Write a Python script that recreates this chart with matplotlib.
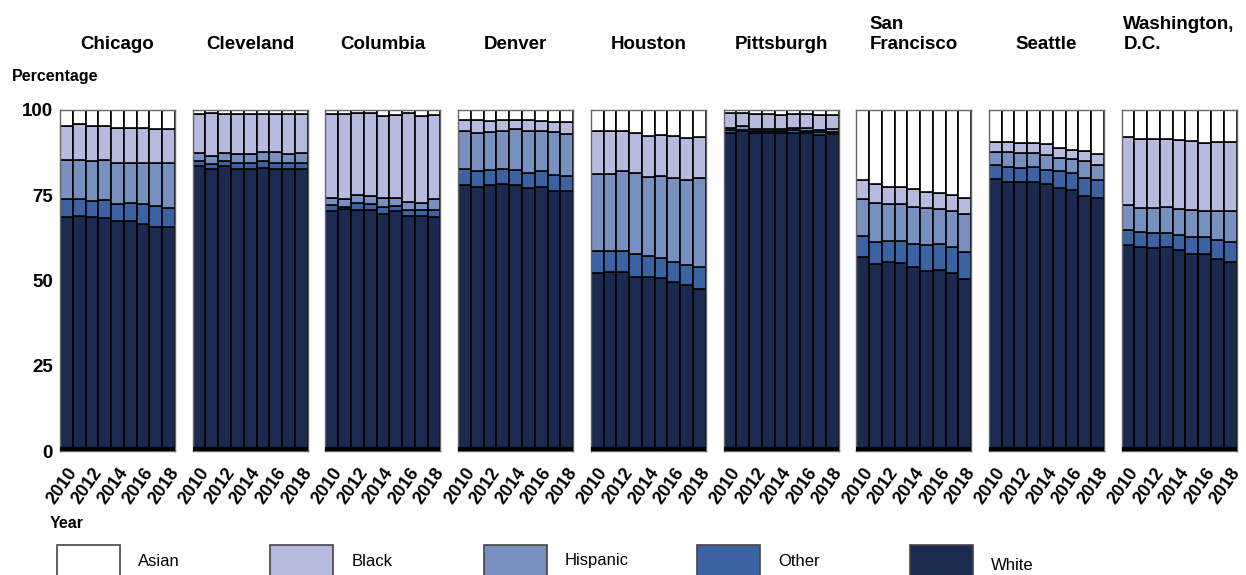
import numpy as np
import matplotlib
matplotlib.use("Agg")
import matplotlib.pyplot as plt
from matplotlib.patches import Rectangle

plt.rcParams["font.family"] = ["Liberation Sans", "DejaVu Sans"]

years = [2010, 2011, 2012, 2013, 2014, 2015, 2016, 2017, 2018]
tick_years = [2010, 2012, 2014, 2016, 2018]
cities = ["Chicago", "Cleveland", "Columbia", "Denver", "Houston",
          "Pittsburgh", "San\nFrancisco", "Seattle", "Washington,\nD.C."]
groups = ["White", "Other", "Hispanic", "Black", "Asian"]   # stacked bottom -> top
legend_order = ["Asian", "Black", "Hispanic", "Other", "White"]
colors = {"White": "#1b2a4f", "Other": "#3b63a3", "Hispanic": "#7790c0",
          "Black": "#b6bbdd", "Asian": "#ffffff"}

# shares (%) per city, one value per year 2010..2018
white = [
    [68.6, 68.8, 68.6, 68.4, 67.4, 67.4, 66.5, 65.7, 65.6],
    [83.5, 82.8, 83.6, 82.7, 82.7, 83.0, 82.7, 82.7, 82.6],
    [70.5, 71.0, 70.6, 70.8, 69.5, 70.4, 68.8, 69.0, 68.6],
    [78.1, 77.5, 78.1, 78.4, 78.1, 77.1, 77.4, 76.1, 76.1],
    [52.2, 52.4, 52.5, 51.0, 51.0, 50.8, 49.6, 48.7, 47.5],
    [93.4, 93.7, 93.2, 93.2, 93.4, 93.4, 93.2, 92.7, 92.9],
    [56.9, 54.8, 55.5, 55.2, 54.1, 52.9, 53.2, 52.2, 50.4],
    [79.7, 78.9, 78.8, 78.9, 78.2, 77.1, 76.5, 74.7, 74.2],
    [60.5, 59.9, 59.6, 59.9, 59.0, 57.9, 57.9, 56.4, 55.4],
]
other = [
    [5.4, 5.2, 4.8, 5.2, 5.1, 5.2, 5.8, 6.1, 5.8],
    [1.5, 1.5, 1.5, 1.8, 1.8, 1.9, 1.8, 1.8, 2.0],
    [1.6, 0.6, 2.1, 1.6, 2.1, 1.5, 2.0, 1.6, 2.2],
    [4.5, 4.5, 4.4, 4.2, 4.2, 4.5, 4.7, 4.9, 4.5],
    [6.4, 6.3, 6.2, 6.8, 6.2, 5.9, 5.9, 5.8, 6.6],
    [0.6, 0.4, 0.5, 0.5, 0.4, 0.6, 0.7, 0.8, 0.7],
    [6.1, 6.5, 6.1, 6.4, 6.7, 7.4, 7.4, 7.6, 7.9],
    [4.1, 4.4, 4.3, 4.4, 4.3, 4.9, 4.9, 5.5, 5.2],
    [4.4, 4.3, 4.3, 4.0, 4.4, 5.0, 5.0, 5.6, 5.9],
]
hispanic = [
    [11.2, 11.2, 11.6, 11.6, 12.1, 12.0, 12.1, 12.6, 13.0],
    [2.3, 2.3, 2.3, 2.5, 2.5, 2.8, 3.2, 2.5, 2.9],
    [2.1, 2.4, 2.5, 2.3, 2.5, 2.4, 2.2, 2.2, 3.1],
    [11.2, 11.4, 11.0, 11.3, 12.0, 12.2, 11.7, 12.6, 12.5],
    [22.5, 22.4, 23.4, 23.6, 23.1, 23.9, 24.7, 25.1, 25.9],
    [0.8, 1.2, 0.8, 0.8, 0.7, 0.7, 0.7, 0.7, 0.7],
    [11.0, 11.4, 10.8, 10.9, 10.8, 11.1, 10.5, 10.7, 11.3],
    [3.8, 4.3, 4.4, 4.2, 4.3, 3.9, 4.2, 4.8, 4.4],
    [7.2, 7.1, 7.4, 7.7, 7.7, 7.7, 7.5, 8.4, 9.0],
]
black = [
    [10.2, 10.6, 10.2, 10.2, 10.2, 10.0, 10.2, 10.0, 10.0],
    [11.5, 12.6, 11.3, 11.8, 11.8, 11.0, 11.0, 11.8, 11.2],
    [24.7, 24.8, 23.8, 24.4, 24.2, 24.2, 26.2, 25.5, 24.6],
    [3.2, 3.8, 3.3, 3.1, 2.9, 3.2, 2.9, 3.0, 3.3],
    [12.8, 12.6, 11.8, 11.8, 12.2, 12.2, 12.3, 12.3, 12.0],
    [4.3, 3.9, 4.3, 4.3, 4.0, 4.0, 4.1, 4.3, 4.2],
    [5.6, 5.6, 5.1, 4.8, 5.1, 4.5, 4.5, 4.5, 4.7],
    [2.9, 2.9, 2.7, 2.7, 3.1, 3.0, 2.6, 2.9, 3.2],
    [19.9, 20.3, 20.1, 19.8, 20.1, 20.2, 20.0, 20.1, 20.2],
]
asian = [
    [4.6, 4.2, 4.8, 4.6, 5.2, 5.4, 5.4, 5.6, 5.6],
    [1.2, 0.8, 1.3, 1.2, 1.2, 1.3, 1.3, 1.2, 1.3],
    [1.1, 1.2, 1.0, 0.9, 1.7, 1.5, 0.8, 1.7, 1.5],
    [3.0, 2.8, 3.2, 3.0, 2.8, 3.0, 3.3, 3.4, 3.6],
    [6.1, 6.3, 6.1, 6.8, 7.5, 7.2, 7.5, 8.1, 8.0],
    [0.9, 0.8, 1.2, 1.2, 1.5, 1.3, 1.3, 1.5, 1.5],
    [20.4, 21.7, 22.5, 22.7, 23.3, 24.1, 24.4, 25.0, 25.7],
    [9.5, 9.5, 9.8, 9.8, 10.1, 11.1, 11.8, 12.1, 13.0],
    [8.0, 8.4, 8.6, 8.6, 8.8, 9.2, 9.6, 9.5, 9.5],
]
shares = {"White": white, "Other": other, "Hispanic": hispanic,
          "Black": black, "Asian": asian}

W, H = 1246, 575
fig = plt.figure(figsize=(W / 100, H / 100), dpi=100)

left0, pw, step = 60, 115, 132.7     # panel geometry in pixels
top_px, bot_px = 110, 451
x = np.arange(len(years))

for i, city in enumerate(cities):
    ax = fig.add_axes([(left0 + i * step) / W, 1 - bot_px / H, pw / W, (bot_px - top_px) / H])
    bottom = np.zeros(len(years))
    for g in groups:
        vals = np.array(shares[g][i])
        ax.bar(x, vals, width=1.0, bottom=bottom, color=colors[g],
               edgecolor="black", linewidth=1.2)
        bottom += vals
    ax.axhline(0, color="black", lw=6, zorder=5)
    ax.set_xlim(-0.5, len(years) - 0.5)
    ax.set_ylim(0, 100)
    for s in ax.spines.values():
        s.set_color("#666666"); s.set_linewidth(1.0)
    ax.set_xticks([years.index(y) for y in tick_years])
    ax.set_xticklabels([str(y) for y in tick_years], rotation=55, ha="right",
                       rotation_mode="anchor", fontsize=13, fontweight="bold")
    ax.tick_params(axis="x", length=0, pad=10)
    ax.set_yticks([0, 25, 50, 75, 100])
    if i == 0:
        ax.set_yticklabels(["0", "25", "50", "75", "100"], fontsize=13.5, fontweight="bold")
        ax.tick_params(axis="y", length=0, pad=5)
    else:
        ax.set_yticklabels([])
        ax.tick_params(axis="y", length=0)
    fig.text((left0 + i * step + pw / 2) / W, 1 - 53 / H, city, ha="center",
             va="bottom", multialignment="left", fontsize=13.5, fontweight="bold")

fig.text(12 / W, 1 - 76 / H, "Percentage", ha="left", va="center",
         fontsize=11.5, fontweight="bold")
fig.text(50 / W, 1 - 523 / H, "Year", ha="left", va="center",
         fontsize=11.5, fontweight="bold")

# legend swatches along the bottom
for k, g in enumerate(legend_order):
    bx = 57 + k * 213.3
    fig.patches.append(Rectangle((bx / W, 1 - 585 / H), 63 / W, 40 / H,
                                 transform=fig.transFigure, facecolor=colors[g],
                                 edgecolor="#444444", linewidth=1.2))
    ty = 566 if g == "White" else 561
    fig.text((bx + 81) / W, 1 - ty / H, g, ha="left", va="center", fontsize=12)

fig.savefig("out.png", dpi=100)
